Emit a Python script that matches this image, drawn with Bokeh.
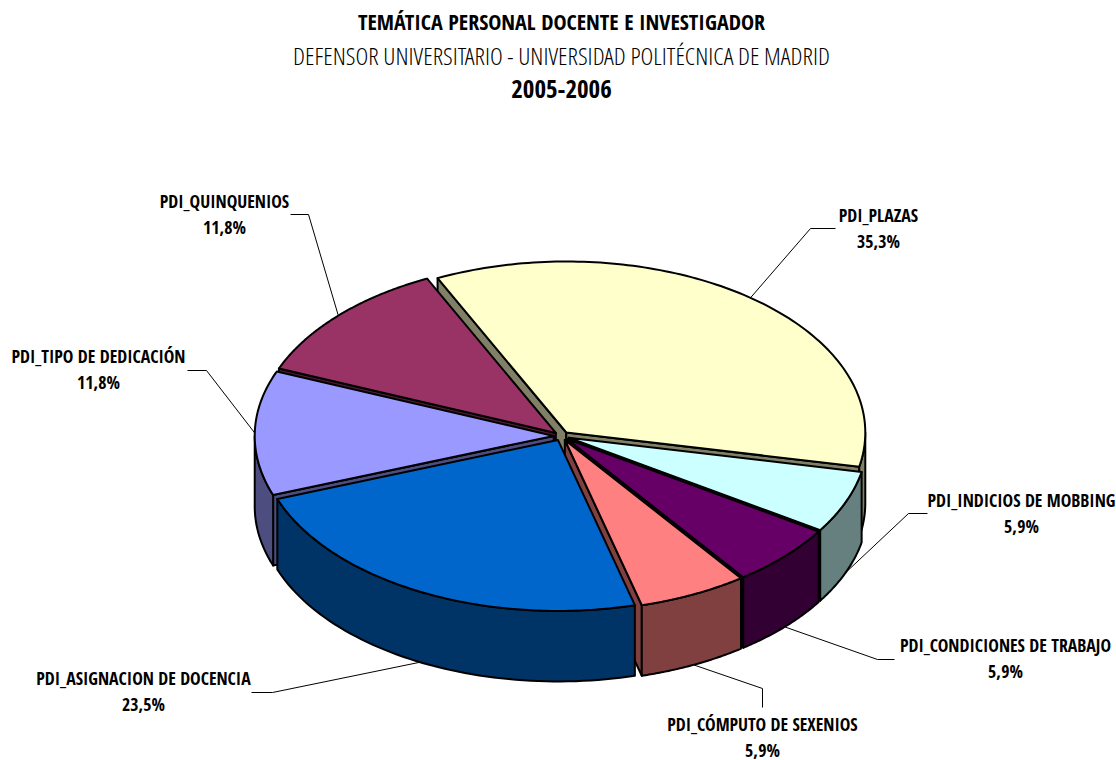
import numpy as np
from bokeh.plotting import figure
from bokeh.models import Range1d
from bokeh.core.properties import value
from bokeh.embed import file_html
from bokeh.resources import INLINE

# ---- data ----
categories = ["PDI_PLAZAS", "PDI_INDICIOS DE MOBBING", "PDI_CONDICIONES DE TRABAJO",
              "PDI_CÓMPUTO DE SEXENIOS", "PDI_ASIGNACION DE DOCENCIA",
              "PDI_TIPO DE DEDICACIÓN", "PDI_QUINQUENIOS"]
counts = [6, 1, 1, 1, 4, 2, 2]
percent_labels = ["35,3%", "5,9%", "5,9%", "5,9%", "23,5%", "11,8%", "11,8%"]
top_colors = ["#FFFFCC", "#CCFFFF", "#660066", "#FF8080", "#0066CC", "#9999FF", "#993366"]
side_colors = ["#808066", "#668080", "#330033", "#804040", "#003366", "#4D4D80", "#4D1A33"]
titles = ["TEMÁTICA PERSONAL DOCENTE E INVESTIGADOR",
          "DEFENSOR UNIVERSITARIO - UNIVERSIDAD POLITÉCNICA DE MADRID", "2005-2006"]

# ---- layout (page pixels) ----
CX, CY, RX, RY, DEPTH, EXPLODE, START = 561.0, 435.5, 299.0, 171.0, 70.5, 0.026, -25.5
FONT = "Open Sans Condensed"
FONT_LIGHT = "Open Sans Condensed Light"
label_pos = [(878, 214), (1021, 499), (1005, 644), (762, 723), (143, 677), (98, 355), (224, 200)]
elbows = [[(810, 228), (835, 228)], [(908, 513), (927, 513)], [(877, 659), (894, 659)],
          [(762, 688), (762, 707)], [(272, 692), (251, 692)], [(206, 370), (187, 370)],
          [(308, 214), (290, 214)]]
title_y = [20, 55, 88]
draw_order = [0, 6, 5, 1, 2, 3, 4]

p = figure(width=1116, height=760, x_range=Range1d(0, 1116), y_range=Range1d(760, 0),
           output_backend="svg", toolbar_location=None, min_border=0, outline_line_color=None)
p.axis.visible = False
p.grid.visible = False
p.background_fill_color = "white"

fr = np.array(counts, dtype=float) / sum(counts)
edges = START + np.concatenate([[0], np.cumsum(fr) * 360])


def rim(ax, ay, t):
    r = np.radians(t)
    return ax + RX * np.sin(r), ay - RY * np.cos(r)


xs, ys, fills = [], [], []
lead_x, lead_y = [], []
for i in draw_order:
    t0, t1 = edges[i], edges[i + 1]
    mid = np.radians((t0 + t1) / 2)
    ax = CX + EXPLODE * RX * np.sin(mid)
    ay = CY - EXPLODE * RY * np.cos(mid)
    # only the radial walls that face the viewer
    walls = []
    if np.sin(np.radians(t0)) < 0:
        walls.append(t0)
    if np.sin(np.radians(t1)) > 0:
        walls.append(t1)
    for t in walls:
        x, y = rim(ax, ay, t)
        xs.append([ax, x, x, ax]); ys.append([ay, y, y + DEPTH, ay + DEPTH]); fills.append(side_colors[i])
    for shift in (0, 360):
        a = max(t0 + shift, 90); b = min(t1 + shift, 270)
        if b > a:
            ts = np.linspace(a, b, 60)
            x, y = rim(ax, ay, ts)
            xs.append(list(x) + list(x[::-1])); ys.append(list(y) + list((y + DEPTH)[::-1])); fills.append(side_colors[i])
    ts = np.linspace(t0, t1, 120)
    x, y = rim(ax, ay, ts)
    xs.append([ax] + list(x)); ys.append([ay] + list(y)); fills.append(top_colors[i])

p.patches(xs, ys, fill_color=fills, line_color="black", line_width=2, line_join="round")

for i in range(len(counts)):
    t = (edges[i] + edges[i + 1]) / 2
    mid = np.radians(t)
    ax = CX + EXPLODE * RX * np.sin(mid)
    ay = CY - EXPLODE * RY * np.cos(mid)
    x, y = rim(ax, ay, t)
    if np.cos(mid) < -0.1:
        y += DEPTH
    lead_x.append([x] + [e[0] for e in elbows[i]])
    lead_y.append([y] + [e[1] for e in elbows[i]])
p.multi_line(lead_x, lead_y, line_color="black", line_width=1)

lx = [q[0] for q in label_pos]
ly = [q[1] for q in label_pos]
p.text(lx, ly, text=categories, text_font=value(FONT), text_font_style="bold", text_font_size="17.8px",
       text_align="center", text_baseline="middle", text_color="black")
p.text(lx, [v + 26 for v in ly], text=percent_labels, text_font=value(FONT), text_font_style="bold",
       text_font_size="17.8px", text_align="center", text_baseline="middle", text_color="black")
p.text([561], [title_y[0]], text=[titles[0]], text_font=value(FONT), text_font_style="bold", text_font_size="22px",
       text_align="center", text_baseline="middle", text_color="black")
p.text([561], [title_y[1]], text=[titles[1]], text_font=value(FONT_LIGHT), text_font_size="24.6px",
       text_align="center", text_baseline="middle", text_color="black")
p.text([561], [title_y[2]], text=[titles[2]], text_font=value(FONT), text_font_style="bold", text_font_size="25px",
       text_align="center", text_baseline="middle", text_color="black")

open("out.html", "w").write(file_html(p, INLINE))
